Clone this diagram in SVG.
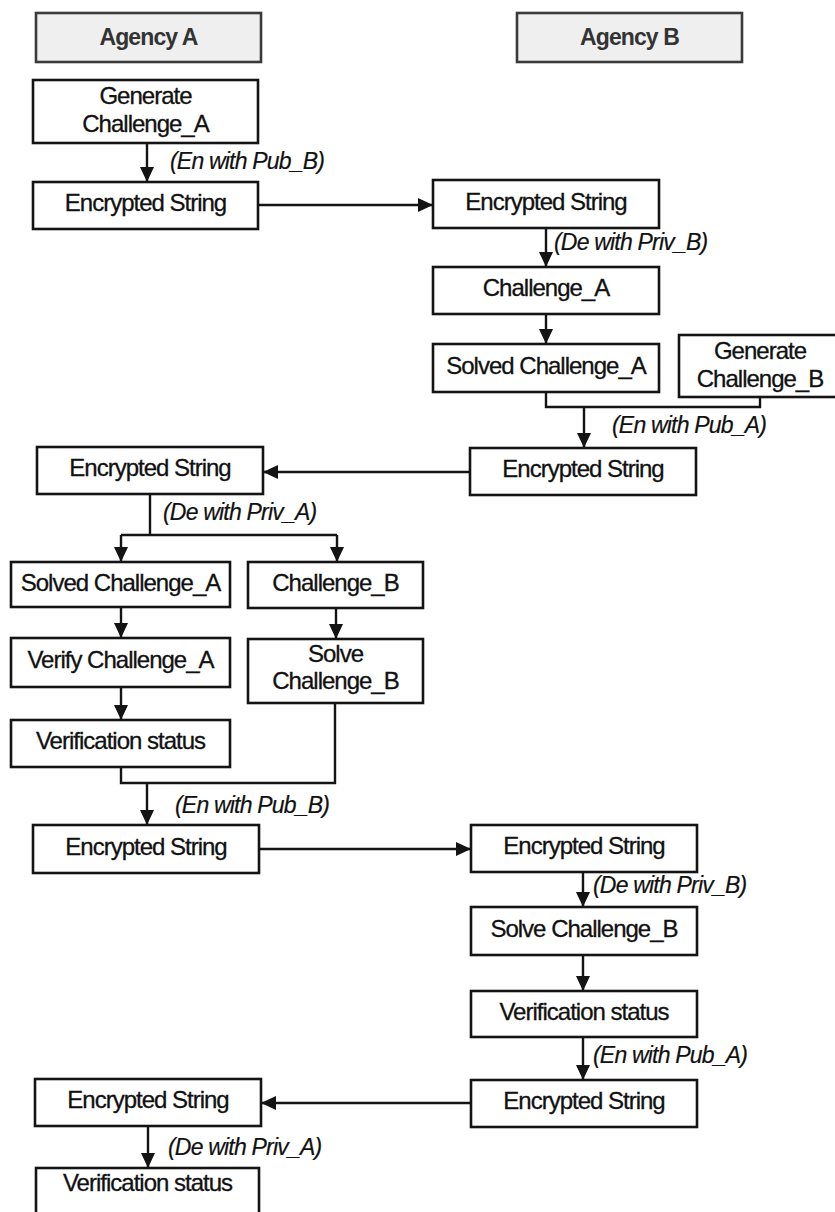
<svg xmlns="http://www.w3.org/2000/svg" width="835" height="1212" viewBox="0 0 835 1212">
  <style>
    .box { fill: #ffffff; stroke: #141414; stroke-width: 2.6; }
    .hdr { fill: #efefef; stroke: #3a3a3a; stroke-width: 2.6; }
    .t { font-family: "Liberation Sans", Arial, sans-serif; font-size: 24px; letter-spacing: -1px; fill: #111111; stroke: #111111; stroke-width: 0.3; text-anchor: middle; }
    .h { font-family: "Liberation Sans", Arial, sans-serif; font-size: 23px; letter-spacing: -0.9px; font-weight: bold; fill: #333333; text-anchor: middle; }
    .lbl { font-family: "Liberation Sans", Arial, sans-serif; font-size: 23px; letter-spacing: -0.8px; font-style: italic; fill: #111111; stroke: #111111; stroke-width: 0.2; }
    .ln { fill: none; stroke: #141414; stroke-width: 2.4; }
    .ar { fill: none; stroke: #141414; stroke-width: 2.4; marker-end: url(#head); }
  </style>
  <defs>
    <marker id="head" markerUnits="userSpaceOnUse" markerWidth="15" markerHeight="15" refX="15" refY="7.5" orient="auto">
      <path d="M0,0.5 L15,7.5 L0,14.5 z" fill="#141414"/>
    </marker>
  </defs>
  <rect width="835" height="1212" fill="#ffffff"/>

  <!-- column headers -->
  <g id="agency-a">
    <rect class="hdr" x="36" y="13" width="225" height="49"/>
    <text class="h" x="148.5" y="45">Agency A</text>
  </g>
  <g id="agency-b">
    <rect class="hdr" x="517" y="13" width="225" height="49"/>
    <text class="h" x="629.5" y="45">Agency B</text>
  </g>

  <!-- connectors -->
  <g id="connectors">
    <path class="ar" d="M147,143 V182"/>
    <path class="ar" d="M258,205 H433"/>
    <path class="ar" d="M546,228 V267"/>
    <path class="ar" d="M546,314 V344"/>
    <path class="ln" d="M546,392 V407 H760 V397"/>
    <path class="ar" d="M584,407 V448"/>
    <path class="ar" d="M470,472 H263"/>
    <path class="ln" d="M150,494 V535"/>
    <path class="ln" d="M121,535 H337"/>
    <path class="ar" d="M121,535 V562"/>
    <path class="ar" d="M337,535 V562"/>
    <path class="ar" d="M121,607 V638"/>
    <path class="ar" d="M336,608 V639"/>
    <path class="ar" d="M121,687 V720"/>
    <path class="ln" d="M121,767 V783 H335 V703"/>
    <path class="ar" d="M147,783 V825"/>
    <path class="ar" d="M259,849 H471"/>
    <path class="ar" d="M583,872 V907"/>
    <path class="ar" d="M583,955 V991"/>
    <path class="ar" d="M583,1037 V1080"/>
    <path class="ar" d="M471,1103 H261"/>
    <path class="ar" d="M148,1126 V1168"/>

    <text class="lbl" x="170" y="169">(En with Pub_B)</text>
    <text class="lbl" x="554" y="250">(De with Priv_B)</text>
    <text class="lbl" x="612" y="433">(En with Pub_A)</text>
    <text class="lbl" x="163" y="520">(De with Priv_A)</text>
    <text class="lbl" x="175" y="813">(En with Pub_B)</text>
    <text class="lbl" x="593" y="893">(De with Priv_B)</text>
    <text class="lbl" x="593" y="1063">(En with Pub_A)</text>
    <text class="lbl" x="168" y="1155">(De with Priv_A)</text>
  </g>

  <!-- Agency A steps -->
  <g id="gen-challenge-a">
    <rect class="box" x="33" y="80" width="225" height="63"/>
    <text class="t" x="145.5" y="104">Generate</text>
    <text class="t" x="145.5" y="132">Challenge_A</text>
  </g>
  <g id="a-encrypted-1">
    <rect class="box" x="33" y="182" width="225" height="47"/>
    <text class="t" x="145.5" y="211">Encrypted String</text>
  </g>
  <g id="a-encrypted-2">
    <rect class="box" x="37" y="447" width="226" height="47"/>
    <text class="t" x="150" y="476">Encrypted String</text>
  </g>
  <g id="a-solved-challenge-a">
    <rect class="box" x="11" y="562" width="219" height="45"/>
    <text class="t" x="120.5" y="591">Solved Challenge_A</text>
  </g>
  <g id="a-challenge-b">
    <rect class="box" x="248" y="562" width="175" height="46"/>
    <text class="t" x="335.5" y="591">Challenge_B</text>
  </g>
  <g id="a-verify-challenge-a">
    <rect class="box" x="11" y="638" width="219" height="49"/>
    <text class="t" x="120.5" y="668">Verify Challenge_A</text>
  </g>
  <g id="a-solve-challenge-b">
    <rect class="box" x="248" y="639" width="175" height="64"/>
    <text class="t" x="335.5" y="662">Solve</text>
    <text class="t" x="335.5" y="689">Challenge_B</text>
  </g>
  <g id="a-verification-status-1">
    <rect class="box" x="11" y="720" width="219" height="47"/>
    <text class="t" x="120.5" y="749">Verification status</text>
  </g>
  <g id="a-encrypted-3">
    <rect class="box" x="33" y="825" width="226" height="48"/>
    <text class="t" x="146" y="855">Encrypted String</text>
  </g>
  <g id="a-encrypted-4">
    <rect class="box" x="35" y="1079" width="226" height="47"/>
    <text class="t" x="148" y="1108">Encrypted String</text>
  </g>
  <g id="a-verification-status-2">
    <rect class="box" x="36" y="1168" width="223" height="60"/>
    <text class="t" x="147.5" y="1191">Verification status</text>
  </g>

  <!-- Agency B steps -->
  <g id="b-encrypted-1">
    <rect class="box" x="433" y="180" width="226" height="48"/>
    <text class="t" x="546" y="210">Encrypted String</text>
  </g>
  <g id="b-challenge-a">
    <rect class="box" x="433" y="267" width="226" height="47"/>
    <text class="t" x="546" y="296">Challenge_A</text>
  </g>
  <g id="b-solved-challenge-a">
    <rect class="box" x="433" y="344" width="226" height="48"/>
    <text class="t" x="546" y="374">Solved Challenge_A</text>
  </g>
  <g id="b-gen-challenge-b">
    <rect class="box" x="679" y="335" width="165" height="62"/>
    <text class="t" x="760" y="359">Generate</text>
    <text class="t" x="760" y="387">Challenge_B</text>
  </g>
  <g id="b-encrypted-2">
    <rect class="box" x="470" y="448" width="226" height="47"/>
    <text class="t" x="583" y="477">Encrypted String</text>
  </g>
  <g id="b-encrypted-3">
    <rect class="box" x="471" y="825" width="226" height="47"/>
    <text class="t" x="584" y="854">Encrypted String</text>
  </g>
  <g id="b-solve-challenge-b">
    <rect class="box" x="471" y="907" width="226" height="48"/>
    <text class="t" x="584" y="937">Solve Challenge_B</text>
  </g>
  <g id="b-verification-status">
    <rect class="box" x="471" y="991" width="226" height="46"/>
    <text class="t" x="584" y="1020">Verification status</text>
  </g>
  <g id="b-encrypted-4">
    <rect class="box" x="471" y="1080" width="226" height="47"/>
    <text class="t" x="584" y="1109">Encrypted String</text>
  </g>
</svg>
